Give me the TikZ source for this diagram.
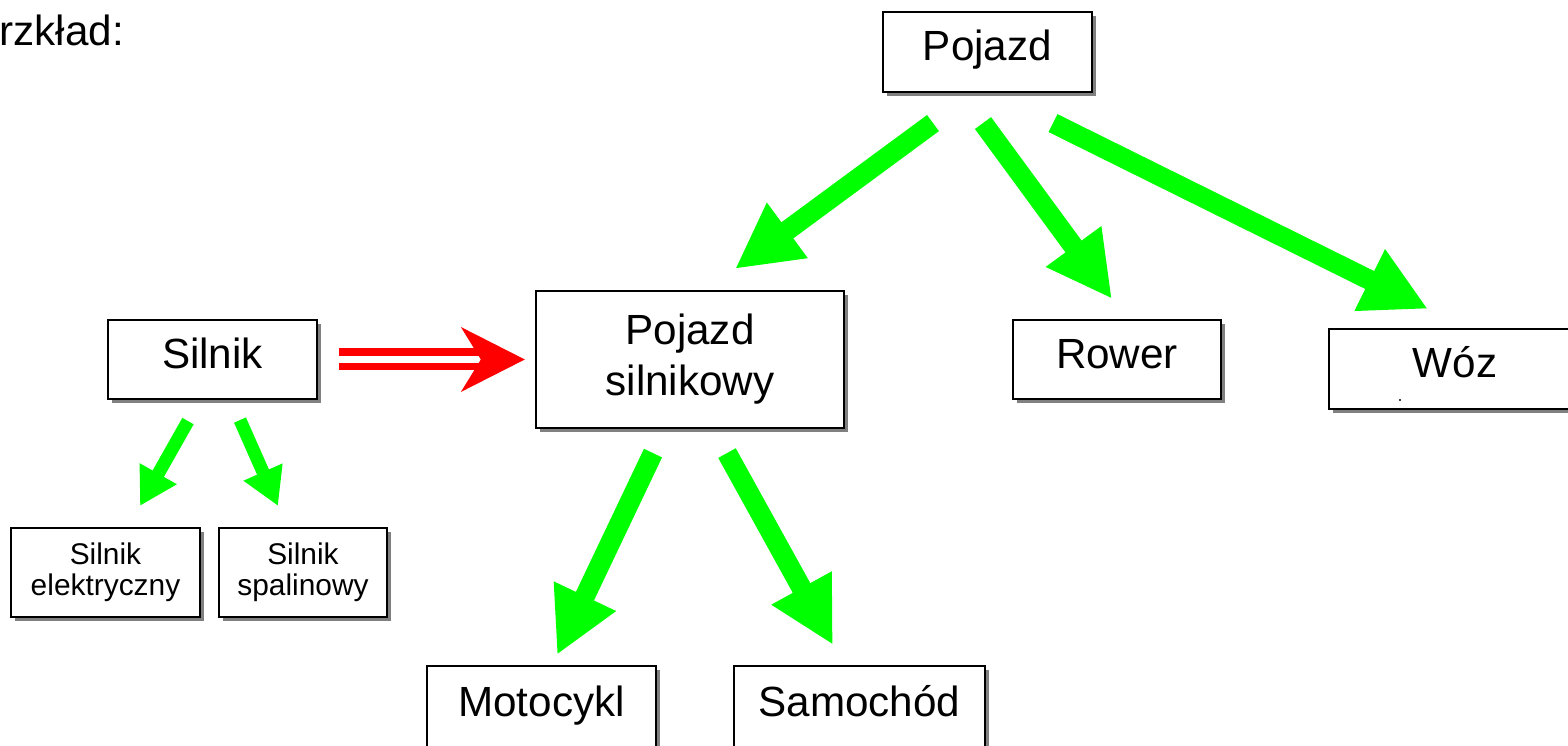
\documentclass[tikz,border=0pt]{standalone}
\usepackage{fontspec}
\setmainfont{Liberation Sans}
\usetikzlibrary{arrows.meta,shadows,calc}
\definecolor{arrowgreen}{RGB}{0,255,0}
\tikzset{
  box/.style={draw, line width=0.6pt, fill=white, align=center, inner sep=0pt,
    drop shadow={shadow xshift=0.04cm, shadow yshift=-0.04cm, fill=black!50, opacity=1},
    font=\fontsize{12}{14.5}\selectfont},
  oneline/.style={box, text height=0.31cm, text depth=0.13cm},
  smallbox/.style={box, font=\fontsize{8.5}{8.8}\selectfont},
  bigarrow/.style={draw=arrowgreen, line width=0.2cm, -{Triangle[length=0.65cm, width=0.64cm]}},
  smallarrow/.style={draw=arrowgreen, line width=0.13cm, -{Triangle[length=0.37cm, width=0.40cm]}},
  redline/.style={draw=red, line width=0.075cm}
}
\begin{document}
\begin{tikzpicture}[x=0.01cm, y=-0.01cm]
  \useasboundingbox (0,0) rectangle (1568,746);
  \clip (0,0) rectangle (1568,746);
  \node[anchor=base west, inner sep=0pt, font=\fontsize{12}{14.5}\selectfont] (title) at (-1,46) {rzkład:};
  % boxes
  \node[oneline, minimum width=2.09cm, minimum height=0.80cm] (pojazd) at (987.5,52) {Pojazd};
  \node[box, minimum width=3.08cm, minimum height=1.37cm] (ps) at (690,359.5) {Pojazd\\silnikowy};
  \node[oneline, minimum width=2.09cm, minimum height=0.79cm] (silnik) at (212.5,359.5) {Silnik};
  \node[smallbox, minimum width=1.89cm, minimum height=0.89cm] (se) at (105.5,572.5) {Silnik\\elektryczny};
  \node[smallbox, minimum width=1.68cm, minimum height=0.89cm] (ss) at (303,572.5) {Silnik\\spalinowy};
  \node[oneline, minimum width=2.29cm, minimum height=0.84cm] (moto) at (541.5,708) {Motocykl};
  \node[oneline, minimum width=2.51cm, minimum height=0.84cm] (sam) at (859.5,708) {Samochód};
  \node[oneline, minimum width=2.08cm, minimum height=0.79cm] (rower) at (1117,359.5) {Rower};
  \node[oneline, minimum width=2.52cm, minimum height=0.80cm] (woz) at (1455,369) {Wóz};
  \fill (1400,400) circle (0.012cm);
  % inheritance arrows
  \begin{scope}
    \draw[bigarrow] ($(pojazd.south)+(-54.5,30)$) -- ($(ps.north)+(45,-21)$);
    \draw[bigarrow] ($(pojazd.south)+(-4.5,30)$) -- ($(rower.north)+(-5,-20)$);
    \draw[bigarrow] ($(pojazd.south)+(65.5,30)$) -- ($(woz.north)+(-27,-19)$);
    \draw[bigarrow] ($(ps.south)+(-37,24)$) -- ($(moto.north)+(15.5,-10)$);
    \draw[bigarrow] ($(ps.south)+(37,24)$) -- ($(sam.north)+(-26.5,-20)$);
    \draw[smallarrow] ($(silnik.south)+(-24.5,21)$) -- ($(se.north)+(34.5,-21)$);
    \draw[smallarrow] ($(silnik.south)+(27.5,20)$) -- ($(ss.north)+(-25,-21)$);
  \end{scope}
  % composition arrow
  \draw[redline] ($(silnik.east)+(21,-7.25)$) -- ($(ps.west)+(-52,-7.25)$);
  \draw[redline] ($(silnik.east)+(21,7.25)$) -- ($(ps.west)+(-52,7.25)$);
  \fill[red] ($(ps.west)+(-10,0)$) -- ++(-64,-32.5) -- ++(20,32.5) -- ++(-20,32.5) -- cycle;
\end{tikzpicture}
\end{document}
